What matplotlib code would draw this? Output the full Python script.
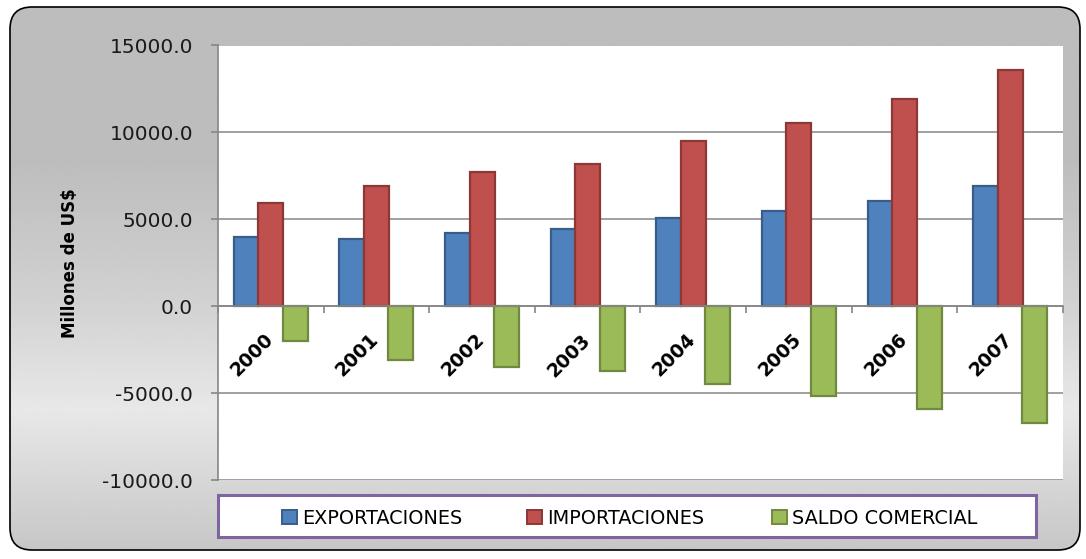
import numpy as np
import matplotlib
matplotlib.use("Agg")
import matplotlib.pyplot as plt
from matplotlib.patches import FancyBboxPatch, Rectangle, Patch
from matplotlib.colors import LinearSegmentedColormap

# Comercio exterior, millones de US$
years = ["2000", "2001", "2002", "2003", "2004", "2005", "2006", "2007"]
exportaciones = [3980, 3890, 4195, 4465, 5075, 5480, 6055, 6915]
importaciones = [5960, 6935, 7700, 8200, 9485, 10555, 11915, 13565]
saldo_comercial = [-2030, -3100, -3505, -3700, -4480, -5170, -5915, -6700]
series_names = ["EXPORTACIONES", "IMPORTACIONES", "SALDO COMERCIAL"]

fill_colors = ["#4F81BD", "#C0504D", "#9BBB59"]
edge_colors = ["#385D8A", "#8C3836", "#71893F"]
grid_gray = "#868686"

W, H = 1086, 559
fig = plt.figure(figsize=(W / 100, H / 100), dpi=100)
fig.patch.set_facecolor("white")

# Background layer in pixel units: rounded frame with vertical gray gradient
bg = fig.add_axes([0, 0, 1, 1], zorder=-10)
bg.set_xlim(0, W)
bg.set_ylim(H, 0)
bg.axis("off")
frame = FancyBboxPatch((10, 7), 1070, 543,
                       boxstyle="round,pad=0,rounding_size=22",
                       facecolor="none", edgecolor="black", linewidth=1.2,
                       zorder=3)
bg.add_patch(frame)
rows = np.linspace(0, H, 400)
stops_y = [0, 160, 300, 410, 559]
stops_v = [0.74, 0.74, 0.82, 0.91, 0.77]
shade = np.interp(rows, stops_y, stops_v)
grad = np.repeat(shade[:, None], 2, axis=1)
cmap = LinearSegmentedColormap.from_list("g", ["black", "white"])
img = bg.imshow(grad, extent=[0, W, H, 0], cmap=cmap, vmin=0, vmax=1,
                aspect="auto", interpolation="bilinear", zorder=1)
img.set_clip_path(frame)

# Legend box
legend_box = Rectangle((218, 495), 818, 42, facecolor="white",
                       edgecolor="#8064A2", linewidth=2.2, zorder=2)
bg.add_patch(legend_box)

# Plot area
ax = fig.add_axes([218 / W, 1 - 480 / H, 845 / W, 434.5 / H])
ax.set_facecolor("white")
x = np.arange(len(years))
w = 0.236
step = 0.232
for k, vals in enumerate([exportaciones, importaciones, saldo_comercial]):
    ax.bar(x + (k - 1) * step, vals, width=w, color=fill_colors[k],
           edgecolor=edge_colors[k], linewidth=1.6, zorder=3 + k,
           label=series_names[k])

ax.set_xlim(-0.5, len(years) - 0.5)
ax.set_ylim(-10000, 15000)
ax.set_yticks(np.arange(-10000, 15001, 5000))
ax.yaxis.set_major_formatter(matplotlib.ticker.FormatStrFormatter("%.1f"))
ax.grid(axis="y", color=grid_gray, linewidth=1.1, zorder=0)
ax.set_axisbelow(True)

for s in ["top", "right"]:
    ax.spines[s].set_visible(False)
ax.spines["left"].set_color(grid_gray)
ax.spines["left"].set_linewidth(1.2)
ax.spines["bottom"].set_position(("data", 0))
ax.spines["bottom"].set_color(grid_gray)
ax.spines["bottom"].set_linewidth(1.2)
ax.spines["bottom"].set_zorder(7)

ax.set_xticks(np.arange(-0.5, len(years), 1.0))
ax.tick_params(axis="x", direction="out", length=5, width=1.2,
               color=grid_gray, labelbottom=False)
ax.tick_params(axis="y", direction="out", length=5, width=1.2,
               color=grid_gray, pad=13, labelsize=14.5, labelcolor="#1a1a1a")

for i, yr in enumerate(years):
    ax.text(i - 0.18, -2820, yr, rotation=45, ha="center", va="center",
            fontsize=13.5, fontweight="bold", color="black", zorder=8)

ax.set_ylabel("Millones de US$", fontsize=12, fontweight="bold", color="black")
ax.yaxis.set_label_coords(-0.164, 0.5)

# One legend entry per series, evenly spaced along the legend box
entry_x = [282, 527, 772]
for k in range(3):
    h = Patch(facecolor=fill_colors[k], edgecolor=edge_colors[k],
              linewidth=1.4, label=series_names[k])
    fig.legend(handles=[h], loc="center left",
               bbox_to_anchor=(entry_x[k] / W, 1 - 518 / H),
               frameon=False, fontsize=13.9, handlelength=0.8,
               handleheight=0.7, handletextpad=0.25, borderpad=0,
               borderaxespad=0)

fig.savefig("out.png", dpi=100)
